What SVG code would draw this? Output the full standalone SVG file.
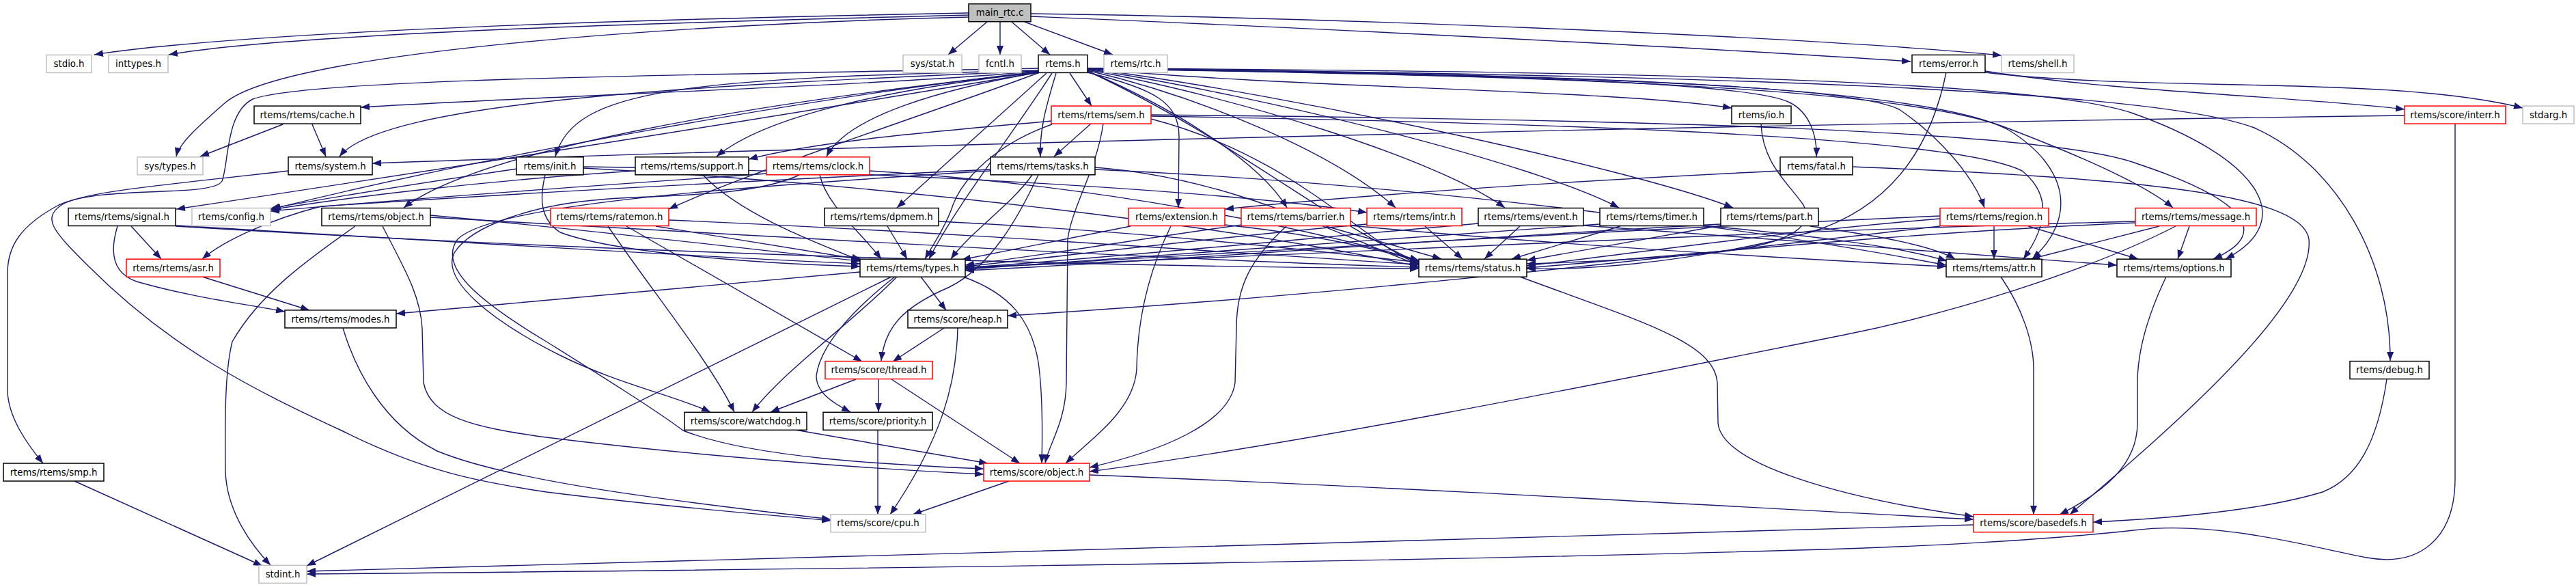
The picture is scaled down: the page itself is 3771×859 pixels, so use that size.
<svg xmlns="http://www.w3.org/2000/svg" width="3771" height="859" viewBox="0 0 3771 859">
<defs>
<marker id="ah" viewBox="0 0 13 10" refX="13" refY="5" markerWidth="13" markerHeight="10" markerUnits="userSpaceOnUse" orient="auto">
<path d="M0,0 L13,5 L0,10 z" fill="#191970"/>
</marker>
<style>
.e{fill:none;stroke:#191970;stroke-width:1.4;marker-end:url(#ah)}
.n rect{fill:#ffffff;stroke:#000000;stroke-width:1.5}
.g rect{fill:#ffffff;stroke:#bfbfbf;stroke-width:1.5}
.r rect{fill:#ffffff;stroke:#ff0000;stroke-width:1.5}
.m rect{fill:#bfbfbf;stroke:#000000;stroke-width:1.5}
text{font-family:"DejaVu Sans","Liberation Sans",sans-serif;font-size:13.33px;fill:#000000;text-anchor:middle}
</style>
</defs>
<rect width="3771" height="859" fill="#ffffff"/>
<g id="connectors">
<path class="e" d="M1418,19 C1100,25 400,40 138,80"/>
<path class="e" d="M1418,22 C1100,30 450,45 247,80"/>
<path class="e" d="M1418,25 C1000,35 420,75 330,150 C290,185 262,210 258,229"/>
<path class="e" d="M1445,32 L1388,80"/>
<path class="e" d="M1464,32 L1464,80"/>
<path class="e" d="M1481,32 L1537,80"/>
<path class="e" d="M1500,32 L1629,80"/>
<path class="e" d="M1509,24 C1900,40 2500,70 2797,90"/>
<path class="e" d="M1509,20 C1900,25 2600,50 2930,81"/>
<path class="e" d="M1520,104 C1300,125 800,140 528,157"/>
<path class="e" d="M1520,104 C1000,125 560,150 497,229"/>
<path class="e" d="M1520,103 C1000,115 840,130 813,229"/>
<path class="e" d="M1520,106 C1300,130 1120,170 1049,229"/>
<path class="e" d="M1520,106 C1380,130 1240,170 1210,229"/>
<path class="e" d="M1520,105 C1200,140 700,230 398,306"/>
<path class="e" d="M1520,106 C1200,160 700,240 258,306"/>
<path class="e" d="M1520,106 C1100,150 700,220 591,304"/>
<path class="e" d="M1522,106 C1350,170 1100,250 979,306"/>
<path class="e" d="M1532,107 L1313,304"/>
<path class="e" d="M1540,107 C1480,200 1400,300 1360,379"/>
<path class="e" d="M1566,107 L1598,155"/>
<path class="e" d="M1546,107 C1530,160 1522,190 1523,229"/>
<path class="e" d="M1592,100 C1900,130 2350,130 2535,158"/>
<path class="e" d="M1592,100 C2200,110 2560,120 2620,150 C2650,165 2660,200 2659,229"/>
<path class="e" d="M1592,106 C1690,130 1726,150 1726,200 L1725,304"/>
<path class="e" d="M1592,104 C1700,150 1840,230 1884,304"/>
<path class="e" d="M1592,103 C1750,140 1950,220 2043,304"/>
<path class="e" d="M1592,102 C1800,140 2100,230 2203,304"/>
<path class="e" d="M1592,101 C1850,140 2250,240 2370,304"/>
<path class="e" d="M1592,100 C1900,140 2400,250 2537,304"/>
<path class="e" d="M1592,100 C2200,110 2700,120 2780,160 C2840,200 2890,260 2905,304"/>
<path class="e" d="M1592,101 C2300,110 2800,130 2940,188 C3050,230 3140,270 3181,304"/>
<path class="e" d="M1592,100 C2300,108 2820,125 2940,190 C3030,245 3040,320 2975,379"/>
<path class="e" d="M1592,100 C2400,104 2980,118 3120,165 C3300,228 3370,320 3258,379"/>
<path class="e" d="M1592,100 C2500,110 3150,130 3300,187 C3420,240 3500,380 3499,528"/>
<path class="e" d="M1592,104 C1800,200 1950,330 2077,384"/>
<path class="e" d="M1520,100 C1000,110 450,115 370,145 C330,165 335,240 325,265 C310,290 150,270 86,300 C30,330 11,360 11,400 L11,570 C11,610 40,650 63,678"/>
<path class="e" d="M2849,106 C2830,200 2780,300 2650,340 C2450,390 2300,395 2235,393"/>
<path class="e" d="M2906,104 C3100,135 3350,140 3520,160"/>
<path class="e" d="M2906,106 C3150,135 3500,110 3693,158"/>
<path class="e" d="M3520,169 C2700,180 1500,205 545,239"/>
<path class="e" d="M3594,181 L3594,700 C3594,790 3540,830 3465,816 C3400,805 3250,760 3123,776 C3000,790 2800,800 2700,803 C2000,825 1000,835 449,840"/>
<path class="e" d="M2889,768 C2500,780 1200,815 449,836"/>
<path class="e" d="M1539,177 C1400,190 1200,205 1096,233"/>
<path class="e" d="M1597,181 L1543,229"/>
<path class="e" d="M1540,182 C1460,210 1410,260 1395,300 C1385,330 1365,360 1354,379"/>
<path class="e" d="M1685,174 C1900,230 2000,360 2077,386"/>
<path class="e" d="M1685,170 C2300,180 2860,200 2960,250 C3010,290 2990,340 2962,379"/>
<path class="e" d="M1685,168 C2400,175 3000,190 3130,240 C3280,290 3330,340 3240,379"/>
<path class="e" d="M1615,181 C1605,250 1570,300 1563,350 L1561,560 C1560,620 1535,650 1530,678"/>
<path class="e" d="M1511,256 C1480,300 1420,340 1392,379"/>
<path class="e" d="M1603,245 C1800,260 1950,340 2077,388"/>
<path class="e" d="M1603,248 C2100,270 2600,340 2849,388"/>
<path class="e" d="M1450,248 C1100,265 800,280 470,302 C400,320 330,350 296,379"/>
<path class="e" d="M1520,256 C1490,320 1450,390 1390,420 C1320,450 1295,480 1290,528"/>
<path class="e" d="M1450,250 C1050,275 720,300 670,350 C640,390 700,440 800,500 C880,550 960,600 1000,630 C1100,670 1300,680 1440,686"/>
<path class="e" d="M1200,256 C1210,300 1260,340 1290,379"/>
<path class="e" d="M1273,250 C1600,270 1900,330 2077,381"/>
<path class="e" d="M1122,254 C900,270 600,290 396,309"/>
<path class="e" d="M1170,256 C1100,290 950,285 880,292 C780,300 690,330 665,370 C645,410 720,470 820,520 C900,560 990,580 1040,603"/>
<path class="e" d="M1029,256 C1080,310 1180,350 1259,381"/>
<path class="e" d="M930,250 C700,265 500,290 396,307"/>
<path class="e" d="M757,247 C600,270 480,290 396,305"/>
<path class="e" d="M798,256 C790,290 790,320 820,340 C900,370 1100,385 1259,390"/>
<path class="e" d="M854,246 C1300,270 1800,330 2077,390"/>
<path class="e" d="M854,244 C1300,250 1800,280 2001,311"/>
<path class="e" d="M422,250 C250,270 120,280 90,300 C60,320 80,340 130,390 C250,510 370,570 500,630 C620,690 700,705 800,720 C1000,745 1150,755 1216,762"/>
<path class="e" d="M414,182 L293,229"/>
<path class="e" d="M457,182 L477,229"/>
<path class="e" d="M192,331 L236,379"/>
<path class="e" d="M172,331 C160,370 165,400 200,412 C280,435 360,445 417,456"/>
<path class="e" d="M257,330 C600,350 1000,375 1259,386"/>
<path class="e" d="M257,331 C900,370 1600,390 2077,393"/>
<path class="e" d="M630,315 C900,340 1100,365 1259,382"/>
<path class="e" d="M630,318 C1200,350 1700,380 2077,391"/>
<path class="e" d="M560,331 C590,390 615,430 618,480 L620,560 C630,610 690,625 800,640 C1000,665 1250,685 1440,694"/>
<path class="e" d="M520,331 C450,380 380,430 340,500 C330,540 329,600 330,690 C332,750 370,800 396,827"/>
<path class="e" d="M960,331 L1262,380"/>
<path class="e" d="M979,322 C1400,340 1800,370 2077,387"/>
<path class="e" d="M917,331 L1262,529"/>
<path class="e" d="M890,331 C950,420 1040,530 1075,603"/>
<path class="e" d="M1299,331 L1328,379"/>
<path class="e" d="M1374,324 C1700,340 1950,370 2077,384"/>
<path class="e" d="M1655,331 L1408,380"/>
<path class="e" d="M1793,329 C1900,340 2000,360 2077,382"/>
<path class="e" d="M1714,331 C1680,400 1665,470 1664,540 C1660,600 1600,640 1560,678"/>
<path class="e" d="M1818,329 C1700,345 1550,370 1413,388"/>
<path class="e" d="M1941,331 L2110,379"/>
<path class="e" d="M1977,330 C2300,360 2650,380 2849,390"/>
<path class="e" d="M1883,331 C1830,380 1810,420 1810,480 L1808,560 C1800,620 1700,660 1595,684"/>
<path class="e" d="M2001,328 C1800,345 1600,370 1413,390"/>
<path class="e" d="M2086,331 L2141,379"/>
<path class="e" d="M2164,327 C1900,350 1650,375 1413,392"/>
<path class="e" d="M2225,331 L2173,379"/>
<path class="e" d="M2318,330 C2600,350 2900,375 3099,388"/>
<path class="e" d="M2342,328 C2000,350 1700,375 1413,394"/>
<path class="e" d="M2372,331 L2213,379"/>
<path class="e" d="M2494,330 C2650,345 2780,360 2850,382"/>
<path class="e" d="M2519,328 C2100,350 1750,380 1413,396"/>
<path class="e" d="M2519,330 L2235,381"/>
<path class="e" d="M2650,331 C2750,345 2830,360 2862,379"/>
<path class="e" d="M2840,316 C2300,340 1800,370 1413,393"/>
<path class="e" d="M2840,320 C2600,340 2400,370 2235,389"/>
<path class="e" d="M2919,331 L2919,379"/>
<path class="e" d="M2969,331 L3130,379"/>
<path class="e" d="M2840,331 C2500,370 2000,430 1475,462"/>
<path class="e" d="M3126,324 C2500,340 1900,375 1413,391"/>
<path class="e" d="M3126,326 C2800,340 2500,370 2235,392"/>
<path class="e" d="M3161,331 L2973,379"/>
<path class="e" d="M3205,331 L3188,379"/>
<path class="e" d="M3185,331 C3050,400 2850,460 2700,490 C2300,570 1900,650 1595,690"/>
<path class="e" d="M1259,398 C1000,420 800,440 580,459"/>
<path class="e" d="M1348,405 L1385,454"/>
<path class="e" d="M1313,405 C1250,470 1150,540 1101,603"/>
<path class="e" d="M1310,405 C1240,460 1200,510 1195,550 C1195,575 1220,590 1245,603"/>
<path class="e" d="M1410,405 C1480,430 1510,470 1520,530 C1527,580 1526,640 1525,678"/>
<path class="e" d="M1305,405 L449,828"/>
<path class="e" d="M502,480 C520,540 560,620 640,660 C760,710 1050,740 1216,760"/>
<path class="e" d="M296,405 L453,454"/>
<path class="e" d="M1382,480 L1307,529"/>
<path class="e" d="M1402,480 C1400,560 1380,640 1303,753"/>
<path class="e" d="M1253,555 L1128,603"/>
<path class="e" d="M1286,555 L1286,603"/>
<path class="e" d="M1305,555 L1493,678"/>
<path class="e" d="M1164,629 L1446,678"/>
<path class="e" d="M1285,629 L1285,753"/>
<path class="e" d="M1477,704 L1336,753"/>
<path class="e" d="M1595,695 C2100,715 2600,745 2889,760"/>
<path class="e" d="M109,704 L384,828"/>
<path class="e" d="M2929,405 C2960,450 2977,500 2977,540 L2977,753"/>
<path class="e" d="M3171,405 C3140,470 3129,520 3129,560 L3129,619 C3129,680 3080,720 3015,753"/>
<path class="e" d="M2712,244 C3100,260 3370,280 3380,350 C3390,450 3150,650 3030,753"/>
<path class="e" d="M2606,250 C2300,265 2000,285 1793,306"/>
<path class="e" d="M2578,181 C2580,240 2620,270 2640,300 C2660,340 2600,365 2450,375 C2350,382 2280,385 2235,386"/>
<path class="e" d="M2225,405 C2400,470 2510,500 2514,560 L2515,619 C2520,680 2700,730 2889,756"/>
<path class="e" d="M3494,555 C3480,650 3450,700 3400,720 C3300,750 3150,760 3064,764"/>
</g>
<g id="node-main_rtc" class="m"><rect x="1418" y="5.7" width="91" height="26"/><text x="1463.5" y="23.4">main_rtc.c</text></g>
<g id="node-stdio" class="g"><rect x="68" y="80.4" width="66" height="26"/><text x="101" y="98.1">stdio.h</text></g>
<g id="node-inttypes" class="g"><rect x="159" y="80.4" width="87" height="26"/><text x="202.5" y="98.1">inttypes.h</text></g>
<g id="node-sys-stat" class="g"><rect x="1322" y="80.4" width="86" height="26"/><text x="1365" y="98.1">sys/stat.h</text></g>
<g id="node-fcntl" class="g"><rect x="1433" y="80.4" width="62" height="26"/><text x="1464" y="98.1">fcntl.h</text></g>
<g id="node-rtems" class="n"><rect x="1520" y="80.4" width="72" height="26"/><text x="1556" y="98.1">rtems.h</text></g>
<g id="node-rtc" class="g"><rect x="1616" y="80.4" width="93" height="26"/><text x="1662.5" y="98.1">rtems/rtc.h</text></g>
<g id="node-error" class="n"><rect x="2799" y="80.4" width="107" height="26"/><text x="2852.5" y="98.1">rtems/error.h</text></g>
<g id="node-shell" class="g"><rect x="2930" y="80.4" width="106" height="26"/><text x="2983" y="98.1">rtems/shell.h</text></g>
<g id="node-cache" class="n"><rect x="372" y="155.1" width="156" height="26"/><text x="450" y="172.8">rtems/rtems/cache.h</text></g>
<g id="node-sem" class="r"><rect x="1539" y="155.1" width="146" height="26"/><text x="1612" y="172.8">rtems/rtems/sem.h</text></g>
<g id="node-io" class="n"><rect x="2535" y="155.1" width="87" height="26"/><text x="2578.5" y="172.8">rtems/io.h</text></g>
<g id="node-interr" class="r"><rect x="3520" y="155.1" width="148" height="26"/><text x="3594" y="172.8">rtems/score/interr.h</text></g>
<g id="node-stdarg" class="g"><rect x="3693" y="155.1" width="75" height="26"/><text x="3730.5" y="172.8">stdarg.h</text></g>
<g id="node-sys-types" class="g"><rect x="201" y="229.8" width="96" height="26"/><text x="249" y="247.5">sys/types.h</text></g>
<g id="node-system" class="n"><rect x="422" y="229.8" width="123" height="26"/><text x="483.5" y="247.5">rtems/system.h</text></g>
<g id="node-init" class="n"><rect x="756" y="229.8" width="98" height="26"/><text x="805" y="247.5">rtems/init.h</text></g>
<g id="node-support" class="n"><rect x="930" y="229.8" width="166" height="26"/><text x="1013" y="247.5">rtems/rtems/support.h</text></g>
<g id="node-clock" class="r"><rect x="1122" y="229.8" width="151" height="26"/><text x="1197.5" y="247.5">rtems/rtems/clock.h</text></g>
<g id="node-tasks" class="n"><rect x="1450" y="229.8" width="153" height="26"/><text x="1526.5" y="247.5">rtems/rtems/tasks.h</text></g>
<g id="node-fatal" class="n"><rect x="2606" y="229.8" width="106" height="26"/><text x="2659" y="247.5">rtems/fatal.h</text></g>
<g id="node-signal" class="n"><rect x="100" y="304.5" width="157" height="26"/><text x="178.5" y="322.2">rtems/rtems/signal.h</text></g>
<g id="node-config" class="g"><rect x="281" y="304.5" width="115" height="26"/><text x="338.5" y="322.2">rtems/config.h</text></g>
<g id="node-object" class="n"><rect x="471" y="304.5" width="159" height="26"/><text x="550.5" y="322.2">rtems/rtems/object.h</text></g>
<g id="node-ratemon" class="r"><rect x="806" y="304.5" width="173" height="26"/><text x="892.5" y="322.2">rtems/rtems/ratemon.h</text></g>
<g id="node-dpmem" class="n"><rect x="1207" y="304.5" width="167" height="26"/><text x="1290.5" y="322.2">rtems/rtems/dpmem.h</text></g>
<g id="node-extension" class="r"><rect x="1652" y="304.5" width="141" height="26"/><text x="1722.5" y="322.2">rtems/extension.h</text></g>
<g id="node-barrier" class="r"><rect x="1817" y="304.5" width="160" height="26"/><text x="1897" y="322.2">rtems/rtems/barrier.h</text></g>
<g id="node-intr" class="r"><rect x="2001" y="304.5" width="139" height="26"/><text x="2070.5" y="322.2">rtems/rtems/intr.h</text></g>
<g id="node-event" class="n"><rect x="2164" y="304.5" width="154" height="26"/><text x="2241" y="322.2">rtems/rtems/event.h</text></g>
<g id="node-timer" class="n"><rect x="2342" y="304.5" width="152" height="26"/><text x="2418" y="322.2">rtems/rtems/timer.h</text></g>
<g id="node-part" class="n"><rect x="2519" y="304.5" width="143" height="26"/><text x="2590.5" y="322.2">rtems/rtems/part.h</text></g>
<g id="node-region" class="r"><rect x="2840" y="304.5" width="159" height="26"/><text x="2919.5" y="322.2">rtems/rtems/region.h</text></g>
<g id="node-message" class="r"><rect x="3126" y="304.5" width="177" height="26"/><text x="3214.5" y="322.2">rtems/rtems/message.h</text></g>
<g id="node-asr" class="r"><rect x="185" y="379.2" width="137" height="26"/><text x="253.5" y="396.9">rtems/rtems/asr.h</text></g>
<g id="node-types" class="n"><rect x="1259" y="379.2" width="154" height="26"/><text x="1336" y="396.9">rtems/rtems/types.h</text></g>
<g id="node-status" class="n"><rect x="2077" y="379.2" width="158" height="26"/><text x="2156" y="396.9">rtems/rtems/status.h</text></g>
<g id="node-attr" class="n"><rect x="2849" y="379.2" width="140" height="26"/><text x="2919" y="396.9">rtems/rtems/attr.h</text></g>
<g id="node-options" class="n"><rect x="3099" y="379.2" width="167" height="26"/><text x="3182.5" y="396.9">rtems/rtems/options.h</text></g>
<g id="node-modes" class="n"><rect x="417" y="453.9" width="163" height="26"/><text x="498.5" y="471.6">rtems/rtems/modes.h</text></g>
<g id="node-heap" class="n"><rect x="1329" y="453.9" width="146" height="26"/><text x="1402" y="471.6">rtems/score/heap.h</text></g>
<g id="node-thread" class="r"><rect x="1208" y="528.6" width="157" height="26"/><text x="1286.5" y="546.3">rtems/score/thread.h</text></g>
<g id="node-debug" class="n"><rect x="3440" y="528.6" width="116" height="26"/><text x="3498" y="546.3">rtems/debug.h</text></g>
<g id="node-watchdog" class="n"><rect x="1002" y="603.3" width="179" height="26"/><text x="1091.5" y="621">rtems/score/watchdog.h</text></g>
<g id="node-priority" class="n"><rect x="1205" y="603.3" width="160" height="26"/><text x="1285" y="621">rtems/score/priority.h</text></g>
<g id="node-smp" class="n"><rect x="5" y="678" width="147" height="26"/><text x="78.5" y="695.7">rtems/rtems/smp.h</text></g>
<g id="node-score-object" class="r"><rect x="1440" y="678" width="155" height="26"/><text x="1517.5" y="695.7">rtems/score/object.h</text></g>
<g id="node-cpu" class="g"><rect x="1216" y="752.7" width="139" height="26"/><text x="1285.5" y="770.4">rtems/score/cpu.h</text></g>
<g id="node-basedefs" class="r"><rect x="2889" y="752.7" width="175" height="26"/><text x="2976.5" y="770.4">rtems/score/basedefs.h</text></g>
<g id="node-stdint" class="g"><rect x="379" y="827.4" width="70" height="26"/><text x="414" y="845.1">stdint.h</text></g>
</svg>
